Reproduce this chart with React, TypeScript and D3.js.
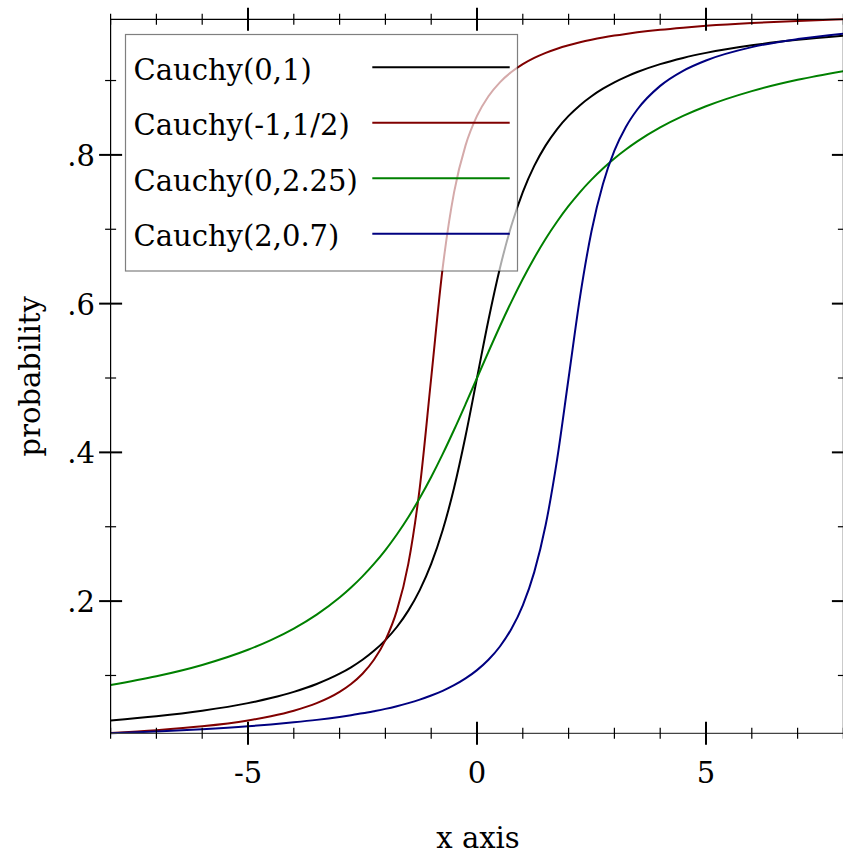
import React from "react";
import * as d3 from "d3";

const xs = [-8, -7, -6, -5, -4.5, -4, -3.5, -3, -2.75, -2.5, -2.25, -2, -1.75, -1.5, -1.25, -1, -0.75, -0.5, -0.25, 0,
  0.25, 0.5, 0.75, 1, 1.25, 1.5, 1.75, 2, 2.25, 2.5, 2.75, 3, 3.25, 3.5, 4, 4.5, 5, 6, 7, 8];

const cauchy01 = [0.0396, 0.0452, 0.0526, 0.0628, 0.0696, 0.0780, 0.0886, 0.1024, 0.1110, 0.1211, 0.1331, 0.1476, 0.1652, 0.1872, 0.2148, 0.25, 0.2952, 0.3524, 0.4220, 0.5,
  0.5780, 0.6476, 0.7048, 0.75, 0.7852, 0.8128, 0.8348, 0.8524, 0.8669, 0.8789, 0.8890, 0.8976, 0.9050, 0.9114, 0.9220, 0.9304, 0.9372, 0.9474, 0.9548, 0.9604];

const cauchyM1Half = [0.0227, 0.0265, 0.0317, 0.0396, 0.0452, 0.0526, 0.0628, 0.0780, 0.0886, 0.1024, 0.1211, 0.1476, 0.1872, 0.25, 0.3524, 0.5, 0.6476, 0.75, 0.8128, 0.8524,
  0.8789, 0.8976, 0.9114, 0.9220, 0.9304, 0.9372, 0.9428, 0.9474, 0.9514, 0.9548, 0.9578, 0.9604, 0.9627, 0.9648, 0.9683, 0.9711, 0.9735, 0.9773, 0.9801, 0.9823];

const cauchy0225 = [0.0873, 0.0990, 0.1142, 0.1346, 0.1476, 0.1631, 0.1819, 0.2048, 0.2183, 0.2333, 0.25, 0.2687, 0.2896, 0.3128, 0.3386, 0.3669, 0.3976, 0.4304, 0.4648, 0.5,
  0.5352, 0.5696, 0.6024, 0.6331, 0.6614, 0.6872, 0.7104, 0.7313, 0.75, 0.7667, 0.7817, 0.7952, 0.8072, 0.8181, 0.8369, 0.8524, 0.8654, 0.8858, 0.9010, 0.9127];

const cauchy207 = [0.0222, 0.0247, 0.0278, 0.0317, 0.0341, 0.0370, 0.0403, 0.0443, 0.0466, 0.0491, 0.0520, 0.0551, 0.0587, 0.0628, 0.0675, 0.0730, 0.0793, 0.0869, 0.0960, 0.1072,
  0.1211, 0.1390, 0.1625, 0.1944, 0.2390, 0.3026, 0.3908, 0.5, 0.6092, 0.6974, 0.7610, 0.8056, 0.8375, 0.8610, 0.8928, 0.9131, 0.9270, 0.9449, 0.9557, 0.9630];

const seriesNames = ["Cauchy(0,1)", "Cauchy(-1,1/2)", "Cauchy(0,2.25)", "Cauchy(2,0.7)"];
const seriesValues = [cauchy01, cauchyM1Half, cauchy0225, cauchy207];
const seriesColors = ["#000000", "#800000", "#008000", "#000080"];

const xDomain = [-8, 8];
const yDomain = [0.02225, 0.98233];
const xMajorTicks = [-5, 0, 5];
const xMajorLabels = ["-5", "0", "5"];
const xMinorTicks = [-8, -7, -6, -4, -3, -2, -1, 1, 2, 3, 4, 6, 7, 8];
const yMajorTicks = [0.2, 0.4, 0.6, 0.8];
const yMajorLabels = [".2", ".4", ".6", ".8"];
const yMinorTicks = [0.1, 0.3, 0.5, 0.7, 0.9];

const xTitle = "x axis";
const yTitle = "probability";

export default function App() {
  const W = 843, H = 856;
  const left = 110.6, right = 843.4, top = 19.3, bottom = 733.3;
  const x = d3.scaleLinear().domain(xDomain).range([left, right]);
  const y = d3.scaleLinear().domain(yDomain).range([bottom, top]);
  const font = "'DejaVu Serif', serif";
  const fs = 29;

  const line = d3.line<[number, number]>()
    .x((d) => x(d[0]))
    .y((d) => y(d[1]))
    .curve(d3.curveMonotoneX);

  const major = 11.5, minor = 5.5;

  // legend layout
  const lgX0 = 125.5, lgY0 = 34.5, lgX1 = 517.5, lgY1 = 271;
  const rowY0 = 67.3, rowStep = 55.47;
  const lineX0 = 372.3, lineX1 = 509.7;

  return (
    <svg width={W} height={H} style={{ position: "absolute", left: 0, top: 0, background: "#fff" }}
      fontFamily={font} fontSize={fs}>
      <rect x={0} y={0} width={W} height={H} fill="#fff" />
      <defs>
        <clipPath id="plotClip">
          <rect x={left} y={top - 2} width={right - left} height={bottom - top + 4} />
        </clipPath>
      </defs>
      {/* curves */}
      <g clipPath="url(#plotClip)">
        {seriesValues.map((vals, i) => (
          <path key={i} d={line(xs.map((xv, j) => [xv, vals[j]] as [number, number])) || ""}
            fill="none" stroke={seriesColors[i]} strokeWidth={2} strokeLinejoin="round" />
        ))}
      </g>
      {/* axes box */}
      <g stroke="#000" strokeWidth={1.2} fill="none">
        <line x1={left} x2={left} y1={top} y2={bottom} />
        <line x1={left} x2={right} y1={top} y2={top} />
        <line x1={left} x2={right} y1={bottom} y2={bottom} stroke="#444" />
        <line x1={right} x2={right} y1={top} y2={bottom} />
      </g>
      {/* x ticks */}
      <g stroke="#000">
        {xMajorTicks.map((t) => (
          <g key={"xM" + t}>
            <line x1={x(t)} x2={x(t)} y1={bottom - major} y2={bottom + major} strokeWidth={2} />
            <line x1={x(t)} x2={x(t)} y1={top - major} y2={top + major} strokeWidth={2} />
          </g>
        ))}
        {xMinorTicks.map((t) => (
          <g key={"xm" + t}>
            <line x1={x(t)} x2={x(t)} y1={bottom - minor} y2={bottom + minor} strokeWidth={1.2} />
            <line x1={x(t)} x2={x(t)} y1={top - minor} y2={top + minor} strokeWidth={1.2} />
          </g>
        ))}
        {yMajorTicks.map((t) => (
          <g key={"yM" + t}>
            <line x1={left - major} x2={left + major} y1={y(t)} y2={y(t)} strokeWidth={2} />
            <line x1={right - major} x2={right + major} y1={y(t)} y2={y(t)} strokeWidth={2} />
          </g>
        ))}
        {yMinorTicks.map((t) => (
          <g key={"ym" + t}>
            <line x1={left - minor} x2={left + minor} y1={y(t)} y2={y(t)} strokeWidth={1.2} />
            <line x1={right - minor} x2={right + minor} y1={y(t)} y2={y(t)} strokeWidth={1.2} />
          </g>
        ))}
      </g>
      {/* tick labels */}
      {xMajorTicks.map((t, i) => (
        <text key={"xl" + t} x={x(t)} y={783} textAnchor="middle" fill="#000">{xMajorLabels[i]}</text>
      ))}
      {yMajorTicks.map((t, i) => (
        <text key={"yl" + t} x={95} y={y(t) + 11} textAnchor="end" fill="#000">{yMajorLabels[i]}</text>
      ))}
      {/* axis titles */}
      <text x={(left + right) / 2 + 1} y={848} textAnchor="middle" fill="#000">{xTitle}</text>
      <text transform={`translate(40,${(top + bottom) / 2}) rotate(-90)`} textAnchor="middle" fill="#000">{yTitle}</text>
      {/* legend */}
      <rect x={lgX0} y={lgY0} width={lgX1 - lgX0} height={lgY1 - lgY0} fill="#fff" fillOpacity={2 / 3}
        stroke="#000" strokeOpacity={0.5} strokeWidth={1.2} />
      {seriesNames.map((name, i) => {
        const ry = rowY0 + i * rowStep;
        return (
          <g key={name}>
            <text x={133.5} y={ry + 12.6} fill="#000">{name}</text>
            <line x1={lineX0} x2={lineX1} y1={ry} y2={ry} stroke={seriesColors[i]} strokeWidth={2} />
          </g>
        );
      })}
    </svg>
  );
}
